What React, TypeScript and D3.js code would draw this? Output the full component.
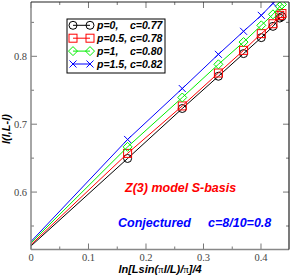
import React from 'react';
import * as d3 from 'd3';

// x = ln[L sin(pi l/L)/pi]/4 for l = 1..9
const xs = [-0.0013, 0.168, 0.2631, 0.3259, 0.3697, 0.4005, 0.4208, 0.4326, 0.4364];

const p0 = [0.5196, 0.6495, 0.7231, 0.7706, 0.804, 0.8275, 0.8441, 0.8563, 0.8585];
const p05 = [0.5215, 0.657, 0.7269, 0.7754, 0.8088, 0.8334, 0.848, 0.8603, 0.863];
const p1 = [0.524, 0.6666, 0.7393, 0.7882, 0.821, 0.8456, 0.8618, 0.8735, 0.8762];
const p15 = [0.526, 0.6775, 0.7525, 0.8029, 0.8368, 0.8603, 0.878, 0.887, 0.89];

const seriesNames = ['p=0,', 'p=0.5,', 'p=1,', 'p=1.5,'];
const seriesC = ['c=0.77', 'c=0.78', 'c=0.80', 'c=0.82'];
const seriesColors = ['#000000', '#ff0000', '#00ee00', '#0000ff'];
const seriesMarks = ['circle', 'square', 'diamond', 'cross'];

const xTicks = [0, 0.1, 0.2, 0.3, 0.4];
const yTicks = [0.6, 0.7, 0.8];

const W = 291;
const H = 276;
const box = { left: 31, right: 289, top: 2, bottom: 249.5 };

const sans = '"Liberation Sans", Arial, sans-serif';
const serif = '"Liberation Serif", "Times New Roman", serif';

function Marker({ kind, x, y, color }: { kind: string; x: number; y: number; color: string }) {
  if (kind === 'circle') return <circle cx={x} cy={y} r={4} fill="none" stroke={color} strokeWidth={1} />;
  if (kind === 'square') return <rect x={x - 4} y={y - 4} width={8} height={8} fill="none" stroke={color} strokeWidth={1} />;
  if (kind === 'diamond')
    return <path d={`M${x},${y - 4.5}L${x + 4.5},${y}L${x},${y + 4.5}L${x - 4.5},${y}Z`} fill="none" stroke={color} strokeWidth={1} />;
  return <path d={`M${x - 3.5},${y - 3.5}L${x + 3.5},${y + 3.5}M${x - 3.5},${y + 3.5}L${x + 3.5},${y - 3.5}`} stroke={color} strokeWidth={1} />;
}

export default function App() {
  const x = d3.scaleLinear().domain([0, 0.4487]).range([box.left, box.right]);
  const y = d3.scaleLinear().domain([0.5154, 0.88]).range([box.bottom, box.top]);
  const line = d3.line<number>().x((_, i) => x(xs[i])).y(d => y(d));
  const series = [p0, p05, p1, p15];

  const xMinor = d3.range(0.05, 0.45, 0.1);
  const yMinor = [0.55, 0.65, 0.75, 0.85];
  const tickCol = '#777';

  return (
    <div style={{ position: 'absolute', left: 0, top: 0 }}>
      <svg width={W} height={H} style={{ display: 'block', background: '#fff' }}>
        <defs>
          <clipPath id="plot">
            <rect x={box.left} y={box.top} width={box.right - box.left} height={box.bottom - box.top} />
          </clipPath>
        </defs>

        {/* ticks on all four sides */}
        {xTicks.map(t => (
          <g key={'xt' + t}>
            <line x1={x(t)} x2={x(t)} y1={box.bottom} y2={box.bottom - 6} stroke={tickCol} />
            <line x1={x(t)} x2={x(t)} y1={box.top} y2={box.top + 6} stroke={tickCol} />
            <text x={x(t)} y={261} textAnchor="middle" fontFamily={serif} fontSize={10.5} fill="#444">{t}</text>
          </g>
        ))}
        {xMinor.map(t => (
          <g key={'xm' + t}>
            <line x1={x(t)} x2={x(t)} y1={box.bottom} y2={box.bottom - 3} stroke={tickCol} />
            <line x1={x(t)} x2={x(t)} y1={box.top} y2={box.top + 3} stroke={tickCol} />
          </g>
        ))}
        {yTicks.map(t => (
          <g key={'yt' + t}>
            <line x1={box.left} x2={box.left + 6} y1={y(t)} y2={y(t)} stroke={tickCol} />
            <line x1={box.right} x2={box.right - 6} y1={y(t)} y2={y(t)} stroke={tickCol} />
            <text x={27} y={y(t)} dy="0.35em" textAnchor="end" fontFamily={serif} fontSize={10.5} fill="#444">{t}</text>
          </g>
        ))}
        {yMinor.map(t => (
          <g key={'ym' + t}>
            <line x1={box.left} x2={box.left + 3} y1={y(t)} y2={y(t)} stroke={tickCol} />
            <line x1={box.right} x2={box.right - 3} y1={y(t)} y2={y(t)} stroke={tickCol} />
          </g>
        ))}

        {/* data */}
        <g clipPath="url(#plot)">
          {series.map((s, k) => (
            <g key={'s' + k}>
              <path d={line(s) || ''} fill="none" stroke={seriesColors[k]} strokeWidth={1} />
              {s.map((v, i) =>
                xs[i] < 0 ? null : <Marker key={i} kind={seriesMarks[k]} x={x(xs[i])} y={y(v)} color={seriesColors[k]} />
              )}
            </g>
          ))}
        </g>

        {/* frame */}
        <line x1={box.left} x2={box.left} y1={box.top} y2={box.bottom} stroke="#888" strokeWidth={1.5} />
        <line x1={box.left} x2={box.right} y1={box.bottom} y2={box.bottom} stroke="#888" strokeWidth={1.5} />
        <line x1={box.left} x2={box.right} y1={box.top} y2={box.top} stroke="#222" strokeWidth={1.2} />
        <line x1={box.right} x2={box.right} y1={box.top} y2={box.bottom} stroke="#222" strokeWidth={1.2} />

        {/* legend */}
        <rect x={67} y={19} width={98} height={54} fill="#fff" stroke="#000" strokeWidth={1} />
        {seriesNames.map((n, k) => {
          const ly = 25.3 + k * 12.9;
          return (
            <g key={'lg' + k}>
              <line x1={73} x2={90} y1={ly} y2={ly} stroke={seriesColors[k]} />
              <Marker kind={seriesMarks[k]} x={73} y={ly} color={seriesColors[k]} />
              <Marker kind={seriesMarks[k]} x={90} y={ly} color={seriesColors[k]} />
              <text x={97} y={ly} dy="0.36em" fontFamily={sans} fontWeight="bold" fontStyle="italic" fontSize={10.5}>{n}</text>
              <text x={130} y={ly} dy="0.36em" fontFamily={sans} fontWeight="bold" fontStyle="italic" fontSize={10.5}>{seriesC[k]}</text>
            </g>
          );
        })}

        {/* annotations */}
        <text x={125} y={192} fontFamily={sans} fontWeight="bold" fontStyle="italic" fontSize={12.5} fill="#ff0000">Z(3) model S-basis</text>
        <text x={118} y={226.5} fontFamily={sans} fontWeight="bold" fontStyle="italic" fontSize={12.5} fill="#0000ff">Conjectured</text>
        <text x={208} y={226.5} fontFamily={sans} fontWeight="bold" fontStyle="italic" fontSize={12.5} fill="#0000ff">c=8/10=0.8</text>

        {/* axis labels */}
        <text x={160} y={273} textAnchor="middle" fontFamily={sans} fontWeight="bold" fontStyle="italic" fontSize={11}>
          ln[Lsin(<tspan fontFamily={serif} fontStyle="normal" fontWeight="normal">π</tspan>l/L)/<tspan fontFamily={serif} fontStyle="normal" fontWeight="normal">π</tspan>]/4
        </text>
        <text transform="translate(10,129) rotate(-90)" textAnchor="middle" fontFamily={sans} fontWeight="bold" fontStyle="italic" fontSize={11}>I(l,L-l)</text>
      </svg>
    </div>
  );
}
